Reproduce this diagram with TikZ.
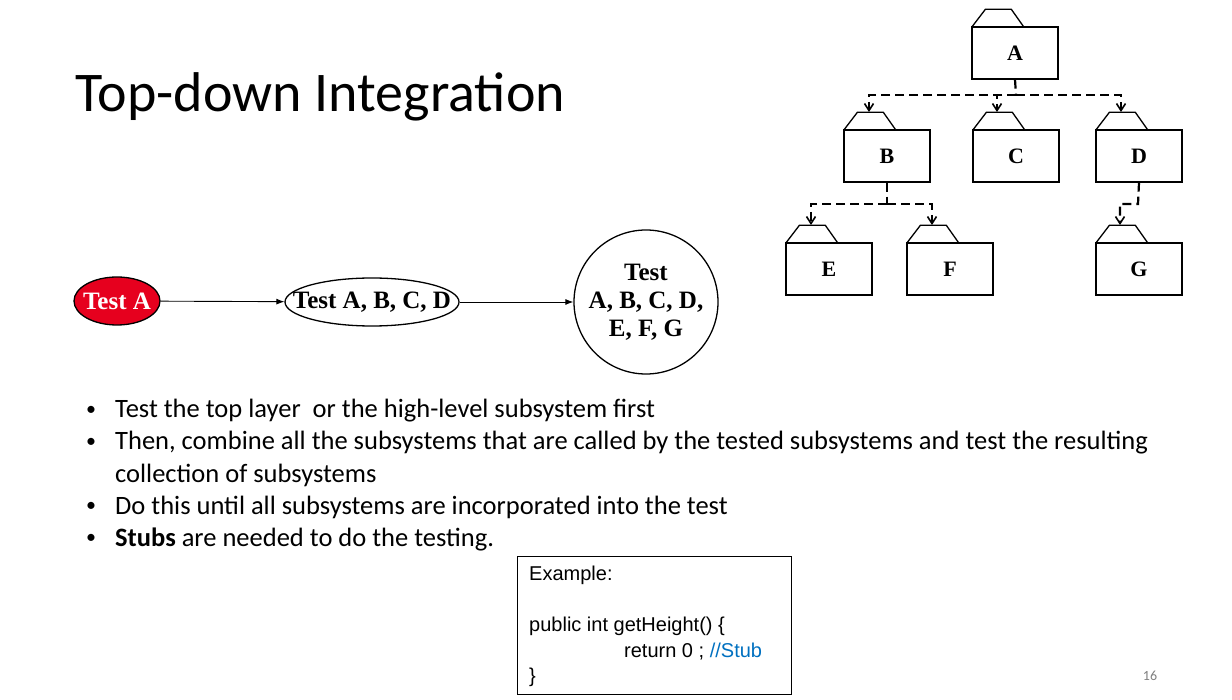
\documentclass[tikz,border=0pt]{standalone}
\usepackage{fontspec}
\setmainfont{Carlito}
\newfontfamily\serifb{Liberation Serif}
\newfontfamily\arialf{Liberation Sans}
\usetikzlibrary{arrows.meta,shapes.geometric}
\definecolor{stubblue}{RGB}{0,112,192}
\definecolor{testred}{RGB}{230,0,30}
\tikzset{
	pkg/.style={draw, line width=1.3pt, minimum width=86pt, minimum height=52pt, inner sep=0pt,
		font=\serifb\fontsize{22}{22}\selectfont\bfseries},
	link/.style={line width=2.2pt, dash pattern=on 9pt off 5pt},
	call/.style={line width=2.2pt, dash pattern=on 9pt off 5pt, -{Straight Barb[length=7pt,width=9pt,line width=1.6pt]}},
	stage/.style={draw, line width=1.3pt, ellipse, inner xsep=-40pt, inner ysep=0pt, font=\serifb\fontsize{25}{28}\selectfont\bfseries},
	flow/.style={line width=0.9pt, -{Latex[length=8pt,width=6pt]}},
	bul/.style={anchor=west, inner sep=0pt, font=\fontsize{26.5}{30}\selectfont}
}
\newcommand\pkgtab[1]{\draw[line width=1.3pt] ([xshift=1pt]#1.north west) -- ++(13pt,17pt) -- ++(26pt,0) -- ++(12pt,-17pt);}
\begin{document}
\begin{tikzpicture}[x=1pt,y=-1pt]
	\useasboundingbox (0,0) rectangle (1232,700);
	\node[anchor=west, font=\fontsize{56}{56}\selectfont] (title) at (72,97) {Top-down Integration};

	% package tree
	\node[pkg] (a) at (1015,53) {A};
	\node[pkg] (b) at (887,156) {B};
	\node[pkg] (c) at (1016,156) {C};
	\node[pkg] (d) at (1139,156) {D};
	\node[pkg] (e) at (829,269) {E};
	\node[pkg] (f) at (950,269) {F};
	\node[pkg] (g) at (1139,269) {G};
	\foreach \p in {a,b,c,d,e,f,g} {\pkgtab{\p}}
	\coordinate (ab) at (1016,95);
	\coordinate (bb) at (887,204);
	\draw[link] (a.south) -- (ab);
	\draw[call] (ab) -- (869,95) -- (869,112);
	\draw[call] (ab) -- (997,95) -- (997,112);
	\draw[call] (ab) -- (1121,95) -- (1121,112);
	\draw[link] (b.south) -- (bb);
	\draw[call] (bb) -- (811,204) -- (811,225);
	\draw[call] (bb) -- (932,204) -- (932,225);
	\draw[call] (d.south) -- (1138,204) -- (1120,204) -- (1120,225);

	% test stages
	\node[stage, fill=testred, text=white, minimum width=86pt, minimum height=48pt] (s1) at (117,301) {Test A};
	\node[stage, minimum width=174pt, minimum height=48pt] (s2) at (372,302) {Test A, B, C, D};
	\node[stage, circle, inner sep=0pt, minimum size=144pt, align=center] (s3) at (646,302) {Test\\A, B, C, D,\\E, F, G};
	\draw[flow] (s1) -- (s2);
	\draw[flow] (s2) -- (s3);

	% bullets
	\foreach \y/\t in {411/Test the top layer\ \ or the high-level subsystem first,
		443/{Then, combine all the subsystems that are called by the tested subsystems and test the resulting},
		507/Do this until all subsystems are incorporated into the test,
		539/{\textbf{Stubs} are needed to do the testing.}} {
		\node[bul, font=\fontsize{20}{20}\selectfont] at (86,\y) {•};
		\node[bul] at (115,\y) {\t};
	}
	\node[bul] at (115,475) {collection of subsystems};

	% stub example
	\node[draw, thin, minimum width=274pt, minimum height=138pt, anchor=north west] (ex) at (517,556) {};
	\node[anchor=north west, align=left, inner sep=0pt, font=\arialf\fontsize{20}{25.5}\selectfont] (code) at (529,566)
		{Example:\\[0pt] \\public int getHeight() \{\\\hspace*{95pt}return 0 ; \textcolor{stubblue}{//Stub}\\\}};
	\node[font=\fontsize{14}{14}\selectfont, text=gray] (pg) at (1150,676) {16};
\end{tikzpicture}
\end{document}
